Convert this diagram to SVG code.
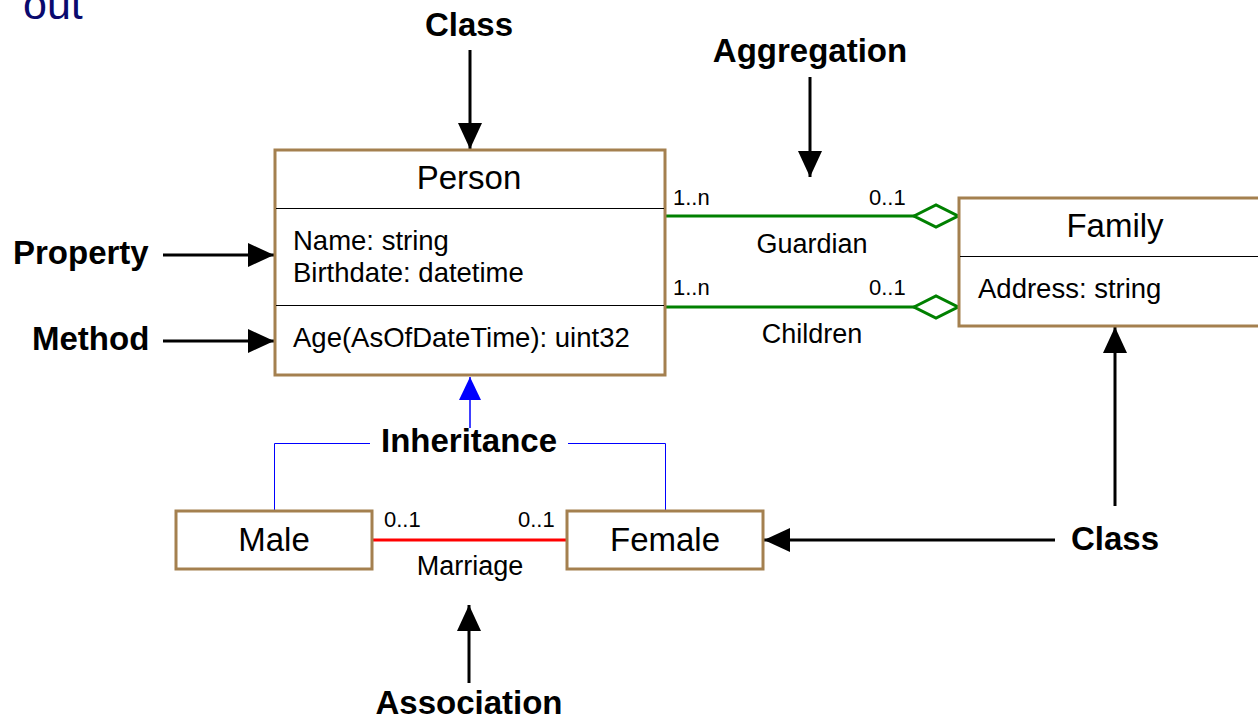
<svg xmlns="http://www.w3.org/2000/svg" width="1258" height="718" viewBox="0 0 1258 718">
  <style>
    .box { fill: #ffffff; stroke: #A4804F; stroke-width: 3; }
    .div { stroke: #000000; stroke-width: 1; }
    .t { font-family: "Liberation Sans", Arial, sans-serif; fill: #000000; }
    .title { font-size: 33px; }
    .attr { font-size: 27.5px; }
    .mult { font-size: 22px; }
    .role { font-size: 27px; }
    .call { font-size: 33px; font-weight: bold; }
    .pointer { stroke: #000000; stroke-width: 3; fill: none; }
    .agg { stroke: #008000; stroke-width: 3; fill: none; }
    .inh { fill: none; stroke: #0000FF; stroke-width: 1; }
    .heading { font-family: "Liberation Sans", Arial, sans-serif; font-size: 43px; fill: #0A0A6E; }
  </style>
  <defs>
    <marker id="head" markerUnits="userSpaceOnUse" markerWidth="28" markerHeight="24" refX="26" refY="12" orient="auto">
      <path d="M0,0 L26,12 L0,24 Z" fill="#000000"/>
    </marker>
    <marker id="diamond" markerUnits="userSpaceOnUse" markerWidth="48" markerHeight="28" refX="46" refY="14" orient="auto">
      <path d="M2,14 L24,3 L46,14 L24,25 Z" fill="#ffffff" stroke="#008000" stroke-width="3"/>
    </marker>
    <marker id="gen" markerUnits="userSpaceOnUse" markerWidth="26" markerHeight="24" refX="23" refY="12" orient="auto">
      <path d="M0,1 L23,12 L0,23 Z" fill="#0000FF"/>
    </marker>
  </defs>

  <!-- page heading fragment -->
  <text class="heading" x="23" y="19">out</text>

  <!-- connectors -->
  <g id="connectors">
    <line class="agg" x1="666" y1="216" x2="958" y2="216" marker-end="url(#diamond)"/>
    <line class="agg" x1="666" y1="307" x2="958" y2="307" marker-end="url(#diamond)"/>
    <line x1="373" y1="540" x2="566" y2="540" stroke="#FF0000" stroke-width="3"/>
    <polyline class="inh" points="274.5,510 274.5,443.5 370,443.5"/>
    <polyline class="inh" points="568,443.5 665.5,443.5 665.5,510"/>
    <line x1="470" y1="428" x2="470" y2="377" stroke="#0000FF" stroke-width="1.5" marker-end="url(#gen)"/>

    <line class="pointer" x1="470" y1="50" x2="470" y2="149" marker-end="url(#head)"/>
    <line class="pointer" x1="810" y1="77" x2="810" y2="177" marker-end="url(#head)"/>
    <line class="pointer" x1="163" y1="255" x2="274" y2="255" marker-end="url(#head)"/>
    <line class="pointer" x1="163" y1="341" x2="274" y2="341" marker-end="url(#head)"/>
    <line class="pointer" x1="1055" y1="540" x2="764" y2="540" marker-end="url(#head)"/>
    <line class="pointer" x1="1115" y1="506" x2="1115" y2="327" marker-end="url(#head)"/>
    <line class="pointer" x1="469" y1="683" x2="469" y2="605" marker-end="url(#head)"/>
  </g>

  <!-- connector labels -->
  <g id="labels">
    <text class="t mult" x="673" y="205">1..n</text>
    <text class="t mult" x="869" y="205">0..1</text>
    <text class="t role" x="812" y="253" text-anchor="middle">Guardian</text>
    <text class="t mult" x="673" y="295">1..n</text>
    <text class="t mult" x="869" y="295">0..1</text>
    <text class="t role" x="812" y="343" text-anchor="middle">Children</text>
    <text class="t mult" x="384" y="527">0..1</text>
    <text class="t mult" x="518" y="527">0..1</text>
    <text class="t role" x="470" y="575" text-anchor="middle">Marriage</text>
    <text class="t call" x="469" y="452" text-anchor="middle">Inheritance</text>
  </g>

  <!-- callouts -->
  <g id="callouts">
    <text class="t call" x="469" y="36" text-anchor="middle">Class</text>
    <text class="t call" x="810" y="62" text-anchor="middle">Aggregation</text>
    <text class="t call" x="13" y="264">Property</text>
    <text class="t call" x="32" y="350">Method</text>
    <text class="t call" x="1071" y="550">Class</text>
    <text class="t call" x="469" y="714" text-anchor="middle">Association</text>
  </g>

  <g id="person">
    <rect class="box" x="275" y="150" width="390" height="225"/>
    <line class="div" x1="276" y1="208.5" x2="664" y2="208.5"/>
    <line class="div" x1="276" y1="305.5" x2="664" y2="305.5"/>
    <text class="t title" x="469" y="189" text-anchor="middle">Person</text>
    <text class="t attr" x="293" y="250">Name: string</text>
    <text class="t attr" x="293" y="282">Birthdate: datetime</text>
    <text class="t attr" x="293" y="347">Age(AsOfDateTime): uint32</text>
  </g>

  <g id="family">
    <rect class="box" x="959" y="198" width="310" height="128"/>
    <line class="div" x1="960" y1="256.5" x2="1258" y2="256.5"/>
    <text class="t title" x="1115" y="237" text-anchor="middle">Family</text>
    <text class="t attr" x="978" y="298">Address: string</text>
  </g>

  <g id="male">
    <rect class="box" x="176" y="511" width="196" height="58"/>
    <text class="t title" x="274" y="551" text-anchor="middle">Male</text>
  </g>

  <g id="female">
    <rect class="box" x="567" y="511" width="196" height="58"/>
    <text class="t title" x="665" y="551" text-anchor="middle">Female</text>
  </g>
</svg>
